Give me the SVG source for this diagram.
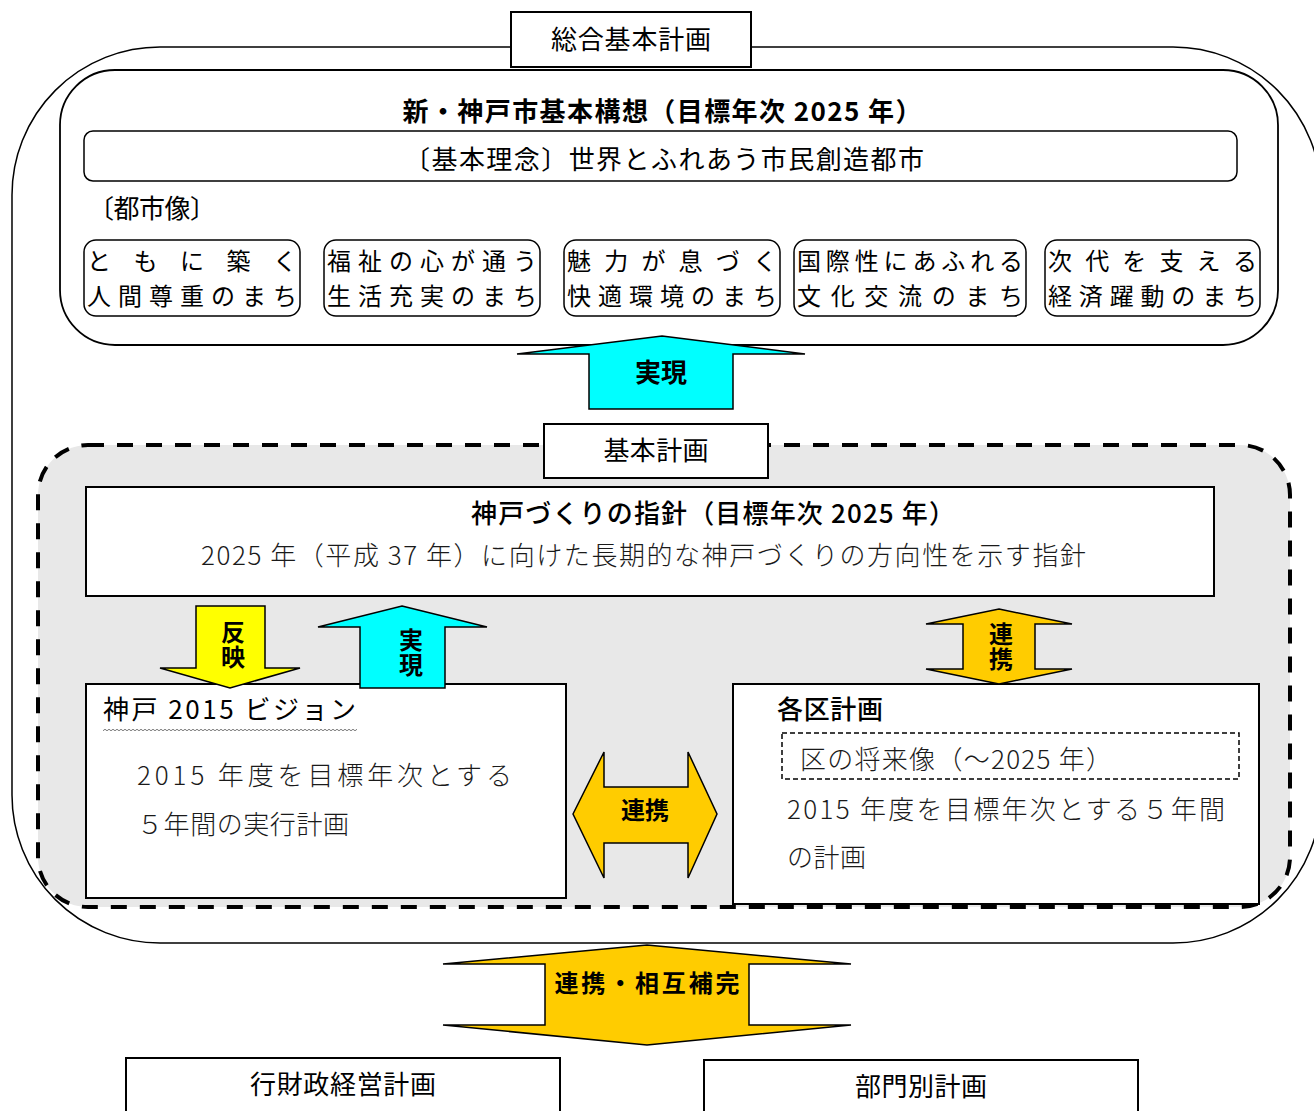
<svg xmlns="http://www.w3.org/2000/svg" width="1314" height="1111" viewBox="0 0 1314 1111">
<defs>
<style>
text{font-family:"Noto Sans CJK JP","Noto Sans",sans-serif;fill:#000;}
.t26{font-size:26px;}
.t24{font-size:24px;}
.b{font-weight:700;}
.m{font-weight:500;}
.l{font-weight:300;fill:#1a1a1a;}
.c{text-anchor:middle;}
.v{writing-mode:vertical-rl;text-anchor:middle;font-size:24px;font-weight:700;letter-spacing:1px;}
.box{fill:#fff;stroke:#000;stroke-width:2;}
.rbox{fill:#fff;stroke:#000;stroke-width:1.5;}
.arr{stroke:#000;stroke-width:1.5;stroke-linejoin:miter;}
.cy{fill:#00ffff;}
.ye{fill:#ffff00;}
.or{fill:#ffcc00;}
</style>
<pattern id="wave" x="0" y="0" width="4" height="4" patternUnits="userSpaceOnUse">
<path d="M0,2 Q1,0.5 2,2 T4,2" fill="none" stroke="#555" stroke-width="0.8"/>
</pattern>
</defs>
<rect width="1314" height="1111" fill="#fff"/>

<g id="sougou">
<rect x="12" y="47" width="1309" height="896" rx="148" fill="none" stroke="#000" stroke-width="1.5"/>
<rect class="box" x="511" y="12" width="240" height="55"/>
<text class="t26 c" x="631" y="49" textLength="160">総合基本計画</text>
</g>

<g id="kousou">
<rect x="60" y="70" width="1218" height="275" rx="55" fill="#fff" stroke="#000" stroke-width="1.8"/>
<text class="t26 c b" x="662" y="121" textLength="519">新・神戸市基本構想（目標年次 2025 年）</text>
</g>

<g id="rinen">
<rect class="rbox" x="84" y="131" width="1153" height="50" rx="9"/>
<text class="t26" x="404" y="169" textLength="520">〔基本理念〕世界とふれあう市民創造都市</text>
</g>

<g id="toshizou-label">
<text class="t26" x="88" y="218" textLength="128">〔都市像〕</text>
</g>

<g id="city1">
<rect class="rbox" x="84" y="240" width="216" height="76" rx="12"/>
<text class="t24" x="87" y="270" textLength="210">ともに築く</text>
<text class="t24" x="87" y="305" textLength="210">人間尊重のまち</text>
</g>
<g id="city2">
<rect class="rbox" x="324" y="240" width="216" height="76" rx="12"/>
<text class="t24" x="327" y="270" textLength="210">福祉の心が通う</text>
<text class="t24" x="327" y="305" textLength="210">生活充実のまち</text>
</g>
<g id="city3">
<rect class="rbox" x="564" y="240" width="216" height="76" rx="12"/>
<text class="t24" x="567" y="270" textLength="210">魅力が息づく</text>
<text class="t24" x="567" y="305" textLength="210">快適環境のまち</text>
</g>
<g id="city4">
<rect class="rbox" x="794" y="240" width="232" height="76" rx="12"/>
<text class="t24" x="797" y="270" textLength="226">国際性にあふれる</text>
<text class="t24" x="797" y="305" textLength="226">文化交流のまち</text>
</g>
<g id="city5">
<rect class="rbox" x="1045" y="240" width="215" height="76" rx="12"/>
<text class="t24" x="1048" y="270" textLength="209">次代を支える</text>
<text class="t24" x="1048" y="305" textLength="209">経済躍動のまち</text>
</g>

<g id="kihon">
<rect x="38" y="445" width="1252" height="462" rx="50" fill="#e8e8e8" stroke="#000" stroke-width="4" stroke-dasharray="16 13"/>
<rect class="box" x="544" y="424" width="224" height="54"/>
<text class="t26 c" x="656" y="460" textLength="105">基本計画</text>
</g>

<g id="shishin">
<rect class="box" x="86" y="487" width="1128" height="109"/>
<text class="t26 m" x="471" y="523" textLength="484">神戸づくりの指針（目標年次 2025 年）</text>
<text class="t26 l" x="201" y="565" textLength="885">2025 年（平成 37 年）に向けた長期的な神戸づくりの方向性を示す指針</text>
</g>

<g id="vision">
<rect class="box" x="86" y="684" width="480" height="214"/>
<text class="t26" x="103" y="719" textLength="253">神戸 2015 ビジョン</text>
<rect x="103" y="728" width="254" height="4" fill="url(#wave)"/>
<text class="t26 l" x="137" y="785" textLength="375">2015  年度を目標年次とする</text>
<text class="t26 l" x="137" y="834" textLength="212">５年間の実行計画</text>
</g>

<g id="kakuku">
<rect class="box" x="733" y="684" width="526" height="220"/>
<text class="t26 m" x="777" y="719" textLength="106">各区計画</text>
<rect x="782" y="733" width="457" height="46" fill="none" stroke="#000" stroke-width="1.5" stroke-dasharray="5 3"/>
<text class="t26 l" x="800" y="769" textLength="312">区の将来像（～2025 年）</text>
<text class="t26 l" x="787" y="819" textLength="438">2015  年度を目標年次とする５年間</text>
<text class="t26 l" x="787" y="867" textLength="79">の計画</text>
</g>

<g id="gyouzaisei">
<rect class="box" x="126" y="1058" width="434" height="60"/>
<text class="t26 c" x="343" y="1094" textLength="186">行財政経営計画</text>
</g>
<g id="bumon">
<rect class="box" x="704" y="1060" width="434" height="60"/>
<text class="t26 c" x="921" y="1096" textLength="132">部門別計画</text>
</g>

<g id="connectors">
<polygon class="arr cy" points="662,336 805,354 733,354 733,409 589,409 589,354 517,354"/>
<text class="t26 c b" x="661" y="382">実現</text>

<polygon class="arr ye" points="196,606 265,606 265,668 300,668 230,688 160,668 196,668"/>
<text class="v" x="233" y="645">反映</text>

<polygon class="arr cy" points="402,606 487,627 445,627 445,688 360,688 360,627 318,627"/>
<text class="v" x="411" y="653">実現</text>

<polygon class="arr or" points="999,609 1072,624 1035,624 1035,669 1072,669 999,684 926,669 963,669 963,624 926,624"/>
<text class="v" x="1001" y="647">連携</text>

<polygon class="arr or" points="573,814 604,752 604,787 688,787 688,752 717,814 688,878 688,843 604,843 604,878"/>
<text class="c b" style="font-size:24px" x="645" y="819">連携</text>

<polygon class="arr or" points="647,945 851,964 749,964 749,1025 851,1025 647,1045 443,1025 545,1025 545,964 443,964"/>
<text class="c b" style="font-size:24px" x="647" y="992" textLength="185">連携・相互補完</text>
</g>
</svg>
